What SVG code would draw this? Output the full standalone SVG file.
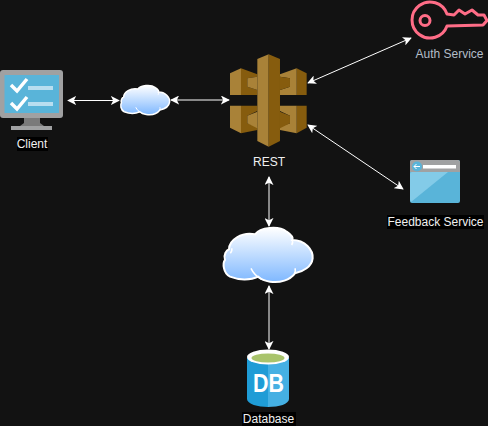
<svg xmlns="http://www.w3.org/2000/svg" width="488" height="426" viewBox="0 0 488 426">
<defs>
<linearGradient id="cg" x1="0" y1="0" x2="0" y2="1"><stop offset="0" stop-color="#ffffff"/><stop offset="1" stop-color="#7fb8ff"/></linearGradient>
<marker id="a" viewBox="0 0 10 10" refX="9" refY="5" markerWidth="9" markerHeight="9" orient="auto-start-reverse" markerUnits="userSpaceOnUse"><path d="M0 0L10 5L0 10L2.500 5Z" fill="#fff"/></marker>
</defs>
<style>
text{font-family:"Liberation Sans",Arial,sans-serif;font-size:12px;text-anchor:middle}
.c{stroke:#fff;stroke-width:1;fill:none;marker-start:url(#a);marker-end:url(#a)}
.cl{fill:url(#cg);stroke:#fff;vector-effect:non-scaling-stroke}
.cs{fill:none;stroke:#fff;vector-effect:non-scaling-stroke}
.lb{fill:#000}
.g1{fill:#a98238}
.g2{fill:#865c0e}
</style>
<rect width="488" height="426" fill="#121212"/>
<g id="connectors">
<line class="c" x1="68" y1="100.500" x2="119" y2="100.500"/>
<line class="c" x1="171" y1="100" x2="229" y2="100"/>
<line class="c" x1="308" y1="83" x2="411" y2="38"/>
<line class="c" x1="308" y1="125" x2="403" y2="189"/>
<line class="c" x1="269" y1="177" x2="269" y2="226"/>
<line class="c" x1="269" y1="286" x2="269" y2="349"/>
</g>
<g id="client">
<rect x="0" y="70" width="63" height="48" rx="3" fill="#a0a1a2"/>
<rect x="4.500" y="75" width="54.500" height="38" fill="#59b4d9"/>
<path d="M24 118H40V123L44 126H20L24 123Z" fill="#7a7a7a"/>
<rect x="11" y="126" width="41" height="4" fill="#a0a1a2"/>
<path d="M11 85L17 91L27 79M11 103L17 109L27 97" fill="none" stroke="#fff" stroke-width="3.500"/>
<rect x="28" y="86" width="25" height="4" fill="#b8def0"/>
<rect x="28" y="102" width="25" height="4" fill="#b8def0"/>
<rect x="17" y="137" width="31" height="14" class="lb"/>
<text x="32" y="148" fill="#f0f0f0">Client</text>
</g>
<g id="internet">
<g transform="translate(116,81.300) scale(0.183,0.179)">
<path class="cl" stroke-width="1.500" d="M45 170C25 160 22 130 30 120C24 105 35 90 42 88C42 60 80 35 120 43C135 22 190 15 215 35C230 45 235 55 232 60C270 60 295 90 293 115C290 140 265 155 240 160C225 180 195 190 165 185C150 183 135 175 130 170C105 182 70 180 45 170Z"/>
<path class="cs" d="M108 145C115 160 125 170 140 178M240 145C242 152 241 157 238 160M232 60C234 65 233 70 230 75"/>
</g>
</g>
<g id="rest">
<g transform="translate(215,45) scale(0.3333)">
<path class="g1" d="M45 85L78 70V150H45Z"/>
<path class="g2" d="M78 70L127 88V95L97 100V125L127 135V150H78Z"/>
<path class="g1" d="M97 100L127 95V135L97 125Z"/>
<path class="g1" d="M45 182H78V265L45 248Z"/>
<path class="g2" d="M78 182H127V198L97 212V235L127 245V255L78 265Z"/>
<path class="g1" d="M97 212L127 200V250L97 235Z"/>
<path class="g2" d="M275 85L245 70V150H275Z"/>
<path class="g1" d="M245 70L195 88V95L225 100V125L195 135V150H245Z"/>
<path class="g2" d="M225 100L195 95V135L225 125Z"/>
<path class="g2" d="M275 182H245V265L275 248Z"/>
<path class="g1" d="M245 182H195V198L225 212V235L195 245V255L245 265Z"/>
<path class="g2" d="M225 212L195 200V250L225 235Z"/>
<path class="g1" d="M127 42L161 28V305L127 288Z"/>
<path class="g2" d="M161 28L195 42V288L161 305Z"/>
</g>
<text x="269" y="166" fill="#f0f0f0">REST</text>
</g>
<g id="auth">
<path d="M447 14A18 18 0 1 0 447 26L483 25L487 20.500L484 15L478 15L472 10L465 14L459 10L454 15Z" fill="none" stroke="#ff6d87" stroke-width="3" stroke-linejoin="round"/>
<circle cx="425" cy="20.500" r="5" fill="none" stroke="#ff6d87" stroke-width="3"/>
<text x="449.500" y="58" fill="#b3bdc8">Auth Service</text>
</g>
<g id="feedback">
<rect x="410" y="160" width="50" height="43" rx="2" fill="#59b4d9"/>
<path d="M411 202L448 172H412Q410 172 410 174V200Z" fill="#83cbe8"/>
<path d="M410 172V162Q410 160 412 160H458Q460 160 460 162V172Z" fill="#a0a1a2"/>
<circle cx="417" cy="166.500" r="5" fill="#59b4d9"/>
<path d="M420 166.500H414M416.500 164L414 166.500L416.500 169" fill="none" stroke="#fff"/>
<rect x="423" y="165" width="33" height="3.500" fill="#fff"/>
<rect x="387" y="215" width="97" height="14" class="lb"/>
<text x="435.500" y="226" fill="#f0f0f0">Feedback Service</text>
</g>
<g id="cloud2">
<g transform="translate(215,220) scale(0.3333)">
<path class="cl" stroke-width="2" d="M45 170C25 160 22 130 30 120C24 105 35 90 42 88C42 60 80 35 120 43C135 22 190 15 215 35C230 45 235 55 232 60C270 60 295 90 293 115C290 140 265 155 240 160C225 180 195 190 165 185C150 183 135 175 130 170C105 182 70 180 45 170Z"/>
<path class="cs" stroke-width="1.500" d="M108 145C115 160 125 170 140 178M240 145C242 152 241 157 238 160M232 60C234 65 233 70 230 75M50 85C52 90 50 95 46 100"/>
</g>
</g>
<g id="database">
<path d="M247 358V399C247 404 258 407 268 407V358Z" fill="#1f9cd6"/>
<path d="M268 358H289V399C289 404 279 407 268 407Z" fill="#45b0e3"/>
<ellipse cx="268" cy="357" rx="21" ry="7.500" fill="#fff"/>
<ellipse cx="268" cy="358" rx="16.500" ry="4.500" fill="#a9c46c"/>
<text x="268.500" y="392" style="font-size:25px;font-weight:bold" textLength="31" lengthAdjust="spacingAndGlyphs" fill="#fff">DB</text>
<rect x="242" y="412" width="54" height="14" class="lb"/>
<text x="268.500" y="423" fill="#f0f0f0">Database</text>
</g>
</svg>
